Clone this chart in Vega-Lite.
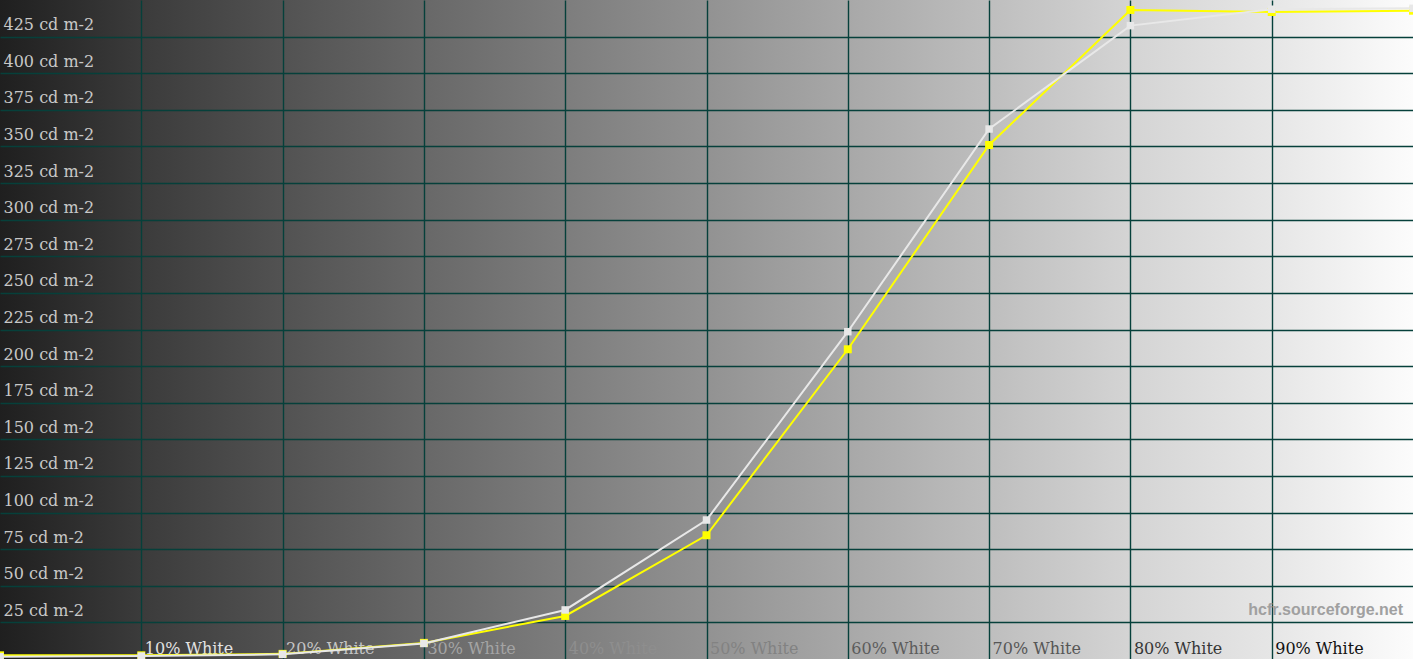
{
  "$schema": "https://vega.github.io/schema/vega-lite/v6.json",
  "width": 1413,
  "height": 659,
  "autosize": "none",
  "padding": 0,
  "background": "#ffffff",
  "view": {
    "stroke": null,
    "fill": {
      "gradient": "linear",
      "x1": 0, "y1": 0, "x2": 1, "y2": 0,
      "stops": [
        {"offset": 0, "color": "#1f1f1f"},
        {"offset": 0.1, "color": "#3b3b3b"},
        {"offset": 0.2, "color": "#525252"},
        {"offset": 0.3, "color": "#686868"},
        {"offset": 0.4, "color": "#7d7d7d"},
        {"offset": 0.5, "color": "#929292"},
        {"offset": 0.6, "color": "#a8a8a8"},
        {"offset": 0.7, "color": "#bebebe"},
        {"offset": 0.8, "color": "#d4d4d4"},
        {"offset": 0.9, "color": "#e6e6e6"},
        {"offset": 1, "color": "#fcfcfc"}
      ]
    }
  },
  "datasets": {
    "luminance": [
      {"pct": 0, "lum": 2.5, "series": "Reference"},
      {"pct": 10, "lum": 2.5, "series": "Reference"},
      {"pct": 20, "lum": 3.5, "series": "Reference"},
      {"pct": 30, "lum": 11, "series": "Reference"},
      {"pct": 40, "lum": 29.4, "series": "Reference"},
      {"pct": 50, "lum": 84.5, "series": "Reference"},
      {"pct": 60, "lum": 211.5, "series": "Reference"},
      {"pct": 70, "lum": 351, "series": "Reference"},
      {"pct": 80, "lum": 443.2, "series": "Reference"},
      {"pct": 90, "lum": 441.8, "series": "Reference"},
      {"pct": 100, "lum": 442.7, "series": "Reference"},
      {"pct": 0, "lum": 1.5, "series": "Measured"},
      {"pct": 10, "lum": 2, "series": "Measured"},
      {"pct": 20, "lum": 3.2, "series": "Measured"},
      {"pct": 30, "lum": 10.6, "series": "Measured"},
      {"pct": 40, "lum": 33.5, "series": "Measured"},
      {"pct": 50, "lum": 94.9, "series": "Measured"},
      {"pct": 60, "lum": 223.5, "series": "Measured"},
      {"pct": 70, "lum": 361.9, "series": "Measured"},
      {"pct": 80, "lum": 432.5, "series": "Measured"},
      {"pct": 90, "lum": 443.7, "series": "Measured"},
      {"pct": 100, "lum": 444.3, "series": "Measured"}
    ],
    "credit": [
      {"text": "hcfr.sourceforge.net"}
    ]
  },
  "layer": [
    {
      "data": {"name": "luminance"},
      "transform": [{"filter": {"field": "series", "equal": "Reference"}}],
      "mark": {
        "type": "line",
        "color": "#ffff00",
        "strokeWidth": 2,
        "point": {"shape": "square", "size": 64, "filled": true, "color": "#ffff00", "opacity": 1}
      },
      "encoding": {
        "x": {
          "field": "pct",
          "type": "quantitative",
          "title": null,
          "scale": {"domain": [0, 100], "nice": false, "zero": false},
          "axis": {
            "values": [10, 20, 30, 40, 50, 60, 70, 80, 90],
            "orient": "bottom",
            "domain": false,
            "ticks": false,
            "tickSize": 0,
            "grid": true,
            "gridColor": "#06403b",
            "gridWidth": 1.4,
            "gridOpacity": 1,
            "labelExpr": "datum.value + '% White'",
            "labelAlign": "left",
            "labelBaseline": "alphabetic",
            "labelPadding": -6,
            "labelOffset": 3,
            "labelFont": "DejaVu Serif",
            "labelFontSize": 16,
            "labelBound": false,
            "labelFlush": false,
            "labelOverlap": false,
            "labelColor": {
              "condition": [
                {"test": "datum.value <= 10", "value": "#e2e2e2"},
                {"test": "datum.value <= 20", "value": "#c4c4c4"},
                {"test": "datum.value <= 30", "value": "#a4a4a4"},
                {"test": "datum.value <= 40", "value": "#8e8e8e"},
                {"test": "datum.value <= 50", "value": "#828282"},
                {"test": "datum.value <= 60", "value": "#5c5c5c"},
                {"test": "datum.value <= 70", "value": "#565656"},
                {"test": "datum.value <= 80", "value": "#363636"}
              ],
              "value": "#121212"
            }
          }
        },
        "y": {
          "field": "lum",
          "type": "quantitative",
          "title": null,
          "scale": {"domain": [0, 450], "nice": false},
          "axis": {
            "values": [25, 50, 75, 100, 125, 150, 175, 200, 225, 250, 275, 300, 325, 350, 375, 400, 425],
            "orient": "left",
            "domain": false,
            "ticks": false,
            "tickSize": 0,
            "grid": true,
            "gridColor": "#06403b",
            "gridWidth": 1.4,
            "gridOpacity": 1,
            "labelExpr": "datum.value + ' cd m-2'",
            "labelAlign": "left",
            "labelBaseline": "alphabetic",
            "labelPadding": -3,
            "labelOffset": -7,
            "labelFont": "DejaVu Serif",
            "labelFontSize": 16,
            "labelColor": "#c8c8c8",
            "labelBound": false,
            "labelFlush": false,
            "labelOverlap": false
          }
        }
      }
    },
    {
      "data": {"name": "luminance"},
      "transform": [{"filter": {"field": "series", "equal": "Measured"}}],
      "mark": {
        "type": "line",
        "color": "#e8e8e8",
        "strokeWidth": 2,
        "point": {"shape": "square", "size": 56, "filled": true, "color": "#e8e8e8", "opacity": 1}
      },
      "encoding": {
        "x": {"field": "pct", "type": "quantitative", "title": null},
        "y": {"field": "lum", "type": "quantitative", "title": null}
      }
    },
    {
      "data": {"name": "credit"},
      "mark": {
        "type": "text",
        "align": "right",
        "baseline": "alphabetic",
        "dx": -10,
        "font": "Liberation Sans",
        "fontWeight": "bold",
        "fontSize": 16,
        "color": "#a0a0a0"
      },
      "encoding": {
        "x": {"datum": 100, "type": "quantitative", "title": null},
        "y": {"datum": 30, "type": "quantitative", "title": null},
        "text": {"field": "text"}
      }
    }
  ]
}
